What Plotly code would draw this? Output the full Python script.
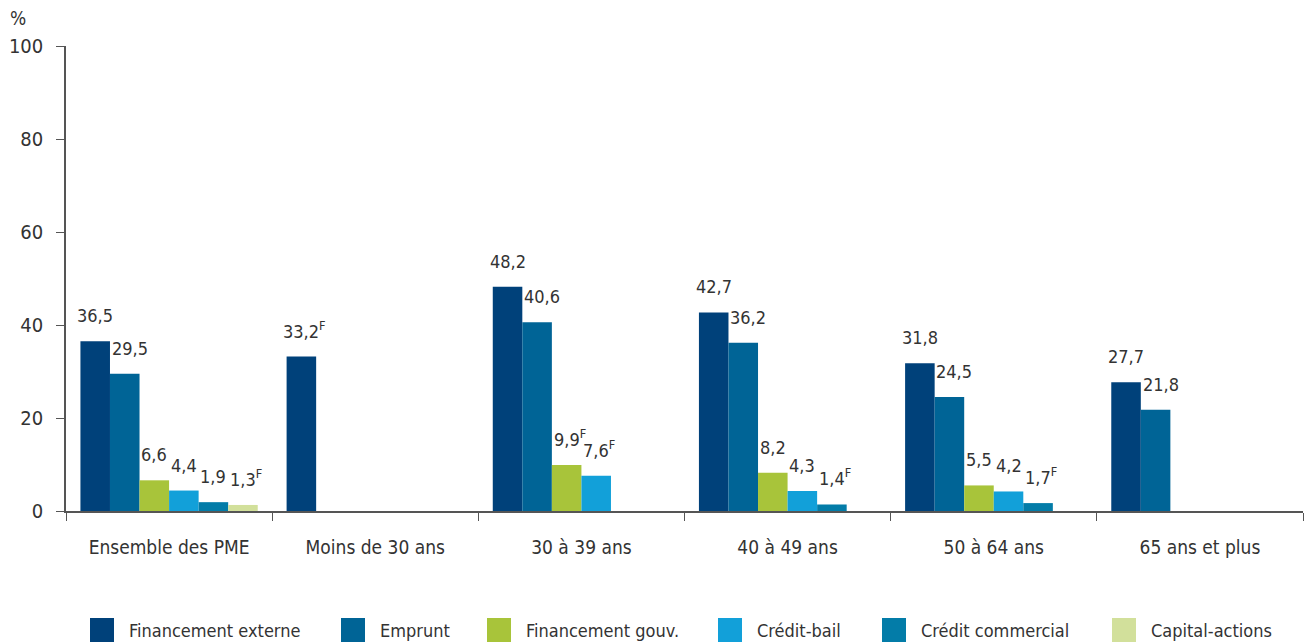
import plotly.graph_objects as go

categories = ["Ensemble des PME", "Moins de 30 ans", "30 à 39 ans",
              "40 à 49 ans", "50 à 64 ans", "65 ans et plus"]
series_names = ["Financement externe", "Emprunt", "Financement gouv.",
                "Crédit-bail", "Crédit commercial", "Capital-actions"]
colors = ["#00417a", "#006496", "#a8c43a", "#12a0d9", "#037ca8", "#d2e09b"]

financement_externe = [36.5, 33.2, 48.2, 42.7, 31.8, 27.7]
emprunt = [29.5, None, 40.6, 36.2, 24.5, 21.8]
financement_gouv = [6.6, None, 9.9, 8.2, 5.5, None]
credit_bail = [4.4, None, 7.6, 4.3, 4.2, None]
credit_commercial = [1.9, None, None, 1.4, 1.7, None]
capital_actions = [1.3, None, None, None, None, None]

# "F" = estimation à utiliser avec prudence
flag_externe = [False, True, False, False, False, False]
flag_emprunt = [False] * 6
flag_gouv = [False, False, True, False, False, False]
flag_bail = [False, False, True, False, False, False]
flag_commercial = [False, False, False, True, True, False]
flag_capital = [True, False, False, False, False, False]

values = [financement_externe, emprunt, financement_gouv,
          credit_bail, credit_commercial, capital_actions]
flags = [flag_externe, flag_emprunt, flag_gouv,
         flag_bail, flag_commercial, flag_capital]

FONT = "DejaVu Sans Condensed, Roboto, sans-serif"
TXT = "#333333"

W, H = 1307, 643
margin_l, margin_r, margin_t, margin_b = 66, 4, 46, 132
plot_w = W - margin_l - margin_r
plot_h = H - margin_t - margin_b

fig = go.Figure()
for name, col, vals in zip(series_names, colors, values):
    fig.add_trace(go.Bar(x=categories, y=vals, name=name, marker_color=col,
                         marker_line_width=0, showlegend=False))

# value labels above the bars
bargap = 0.14
bw = plot_w / len(categories) * (1 - bargap) / len(series_names)
annotations = []
for i, (vals, fl) in enumerate(zip(values, flags)):
    for cat, v, f in zip(categories, vals, fl):
        if v is None:
            continue
        txt = f"{v:.1f}".replace(".", ",") + ("<sup>F</sup>" if f else "")
        annotations.append(dict(x=cat, y=v, xref="x", yref="y", text=txt,
                                showarrow=False, yanchor="bottom",
                                xshift=(i - 2.5) * bw + (3 if f else 0) + (5 if i == 1 else 0),
                                yshift=13,
                                font=dict(size=18, color=TXT, family=FONT)))
annotations.append(dict(x=-48 / plot_w, y=1 + 28 / plot_h, xref="paper", yref="paper",
                        text="%", showarrow=False, xanchor="center", yanchor="middle",
                        font=dict(size=19, color=TXT, family=FONT)))

# legend drawn by hand: big squares along the bottom edge
legend_px = [90, 341, 487, 718, 882, 1112]
legend_y = -119 / plot_h
shapes = []
for name, col, px in zip(series_names, colors, legend_px):
    xa = (px - margin_l) / plot_w
    shapes.append(dict(type="rect", xref="paper", yref="paper",
                       xsizemode="pixel", ysizemode="pixel", xanchor=xa, yanchor=legend_y,
                       x0=0, x1=24, y0=-12, y1=12, fillcolor=col, line_width=0))
    annotations.append(dict(x=xa, y=legend_y, xref="paper", yref="paper", text=name,
                            xshift=37, showarrow=False, xanchor="left", yanchor="middle",
                            font=dict(size=18, color=TXT, family=FONT)))

fig.update_layout(
    width=W, height=H,
    margin=dict(l=margin_l, r=margin_r, t=margin_t, b=margin_b),
    plot_bgcolor="white", paper_bgcolor="white",
    barmode="group", bargap=bargap, bargroupgap=0,
    font=dict(family=FONT, size=20, color=TXT),
    annotations=annotations, shapes=shapes, showlegend=False,
)
fig.update_yaxes(range=[0, 100], dtick=20, showgrid=False, zeroline=False,
                 showline=True, linecolor="#555555", linewidth=1.5,
                 ticks="outside", ticklen=8, tickcolor="#555555", automargin=False,
                 tickfont=dict(size=20, color=TXT), ticklabelstandoff=9)
fig.update_xaxes(showgrid=False, showline=True, linecolor="#555555", linewidth=1.5,
                 ticks="outside", ticklen=8, tickcolor="#555555", tickson="boundaries",
                 automargin=False,
                 tickfont=dict(size=19, color=TXT), ticklabelstandoff=18)

# drop the page's default 8px body margin so the figure fills the window
fig.write_html("out.html", config={"displayModeBar": False},
               post_script="document.body.style.margin='0';")
